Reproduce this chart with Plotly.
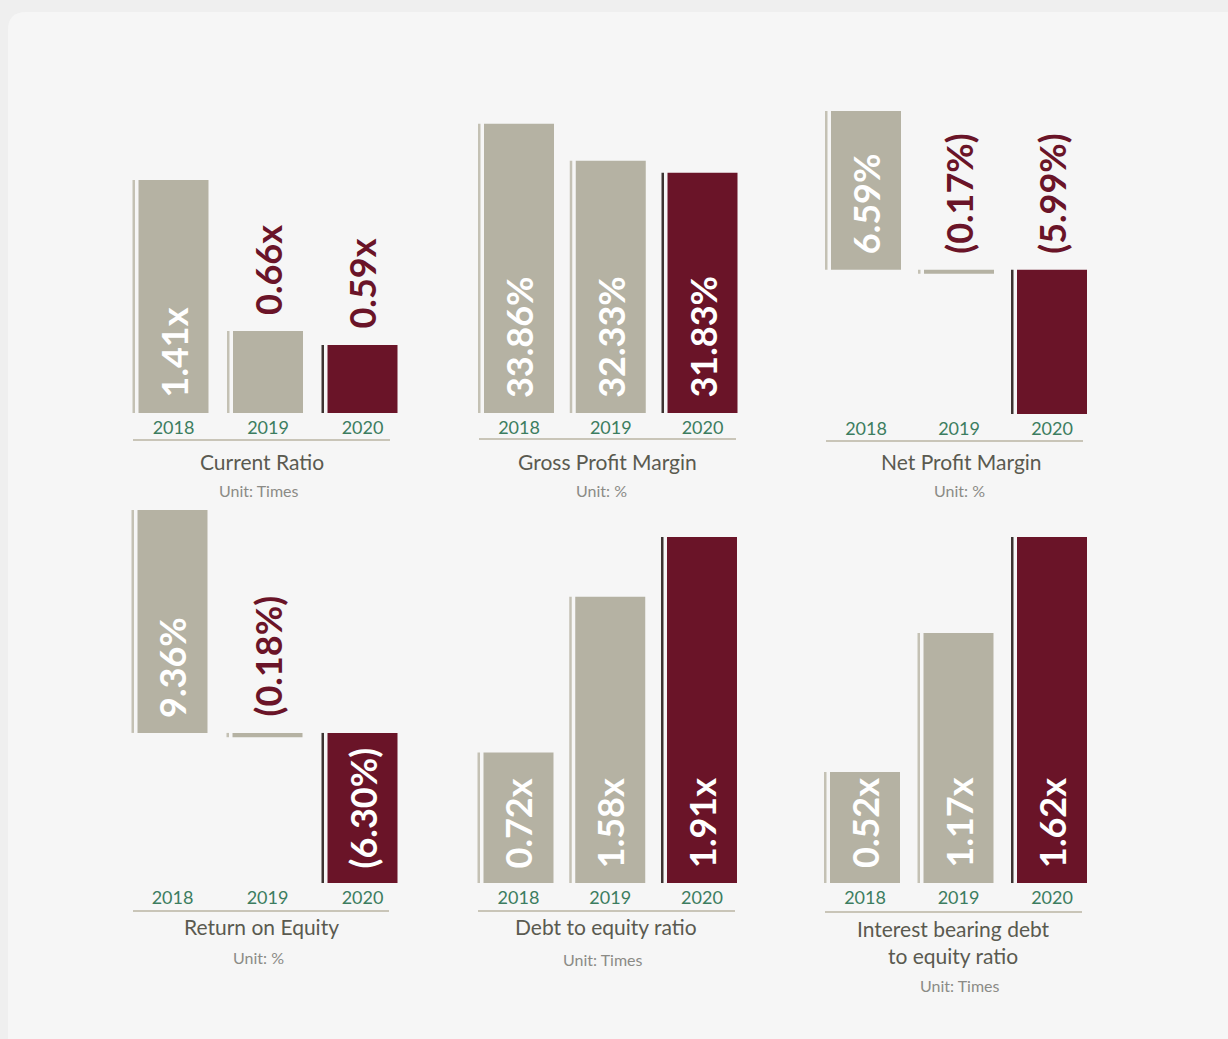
import plotly.graph_objects as go

# ---------------- data ----------------
years = ["2018", "2019", "2020"]

current_ratio = [1.41, 0.66, 0.59]
gross_profit_margin = [33.86, 32.33, 31.83]
net_profit_margin = [6.59, -0.17, -5.99]
return_on_equity = [9.36, -0.18, -6.30]
debt_to_equity = [0.72, 1.58, 1.91]
ibd_to_equity = [0.52, 1.17, 1.62]

titles = ["Current Ratio", "Gross Profit Margin", "Net Profit Margin",
          "Return on Equity", "Debt to equity ratio",
          "Interest bearing debt<br>to equity ratio"]
units = ["Unit: Times", "Unit: %", "Unit: %", "Unit: %", "Unit: Times", "Unit: Times"]
suffixes = ["x", "%", "%", "%", "x", "x"]
series = [current_ratio, gross_profit_margin, net_profit_margin,
          return_on_equity, debt_to_equity, ibd_to_equity]

# ---------------- style / layout ----------------
W, H = 1228, 1039
GRAY = "#b5b2a3"
MAROON = "#6a1428"
STRIPE_GRAY = "#c4c1b4"
STRIPE_DARK = "#3d3432"
YEAR_GREEN = "#3c7d60"
TITLE_COL = "#5a5a50"
UNIT_COL = "#8b8b86"
LINE_COL = "#c9c5b8"
FONT = "Lato"

bar_colors = [GRAY, GRAY, MAROON]
stripe_colors = [STRIPE_GRAY, STRIPE_GRAY, STRIPE_DARK]

# per panel: first category centre (px), category spacing (px), plot top/bottom (px),
# axis value at plot bottom, pixels per unit, which labels sit outside the bar,
# underline (x0, x1, y) px, title (x, y) px, unit (x, y) px
panels = [
    dict(c0=173.5, s=94.5, top=95, bottom=413, vbot=0.2522, ppu=201.2, outside=[1, 2],
         line=(133, 390, 440), title=(262, 461), unit=(258, 491)),
    dict(c0=519, s=91.75, top=95, bottom=413, vbot=21.9, ppu=24.19, outside=[],
         line=(479, 736, 439), title=(607, 461), unit=(601, 491)),
    dict(c0=866, s=93, top=95, bottom=414, vbot=-5.99, ppu=24.09, outside=[1, 2],
         line=(826, 1083, 441), title=(961, 462), unit=(959, 491)),
    dict(c0=172.5, s=95, top=495, bottom=883, vbot=-6.30, ppu=23.82, outside=[1],
         line=(133, 389, 911), title=(261, 926), unit=(258, 957)),
    dict(c0=518.5, s=91.75, top=495, bottom=883, vbot=0.0, ppu=181.2, outside=[],
         line=(478, 735, 911), title=(606, 926), unit=(602, 959)),
    dict(c0=865, s=93.5, top=495, bottom=883, vbot=0.0, ppu=213.6, outside=[],
         line=(825, 1082, 912), title=(953, 942), unit=(959, 985)),
]

MAIN_W = 70.0
STRIPE_W = 2.5
GAP = 3.5


def fmt(v, suf):
    return f"({abs(v):.2f}{suf})" if v < 0 else f"{v:.2f}{suf}"


fig = go.Figure()
annotations = []
shapes = []

# card background
rx, ry = 18 / W, 18 / H
cx0, cy0 = 8 / W, 1 - 12 / H
shapes.append(dict(
    type="path", xref="paper", yref="paper", layer="below",
    path=(f"M {cx0} -0.05 L {cx0} {cy0 - ry} Q {cx0} {cy0} {cx0 + rx} {cy0} "
          f"L 1.05 {cy0} L 1.05 -0.05 Z"),
    fillcolor="#f6f6f6", line=dict(width=0)))

layout_axes = {}
for i, (p, vals, suf) in enumerate(zip(panels, series, suffixes)):
    n = i + 1
    xa = "x" if n == 1 else f"x{n}"
    ya = "y" if n == 1 else f"y{n}"
    s = p["s"]

    # stripe (thin line at the left of each bar)
    fig.add_trace(go.Bar(
        x=years, y=vals, xaxis=xa, yaxis=ya,
        width=STRIPE_W / s, offset=-(MAIN_W / 2 + GAP + STRIPE_W) / s,
        marker=dict(color=stripe_colors, line=dict(width=0)),
        hoverinfo="skip", showlegend=False))
    # main bar
    fig.add_trace(go.Bar(
        x=years, y=vals, xaxis=xa, yaxis=ya,
        width=MAIN_W / s, offset=-(MAIN_W / 2) / s,
        marker=dict(color=bar_colors, line=dict(width=0)),
        hoverinfo="skip", showlegend=False))

    xdom = [(p["c0"] - 0.5 * s) / W, (p["c0"] + 2.5 * s) / W]
    ydom = [1 - p["bottom"] / H, 1 - p["top"] / H]
    yrng = [p["vbot"], p["vbot"] + (p["bottom"] - p["top"]) / p["ppu"]]
    layout_axes["xaxis" if n == 1 else f"xaxis{n}"] = dict(
        domain=xdom, range=[-0.5, 2.5], type="category", anchor=ya,
        showgrid=False, zeroline=False, showline=False, ticks="",
        tickfont=dict(family=FONT, size=18, color=YEAR_GREEN),
        ticklabelstandoff=2, fixedrange=True)
    layout_axes["yaxis" if n == 1 else f"yaxis{n}"] = dict(
        domain=ydom, range=yrng, anchor=xa, visible=False, fixedrange=True)

    # value labels (x given as category index)
    base_vis = max(0.0, p["vbot"])
    for j, v in enumerate(vals):
        txt = fmt(v, suf)
        if j in p["outside"]:
            y, yanchor, ysh, col = max(v, base_vis), "bottom", 14, MAROON
        elif v >= 0:
            y, yanchor, ysh, col = base_vis, "bottom", 13, "white"
        else:
            y, yanchor, ysh, col = 0, "top", -14, "white"
        annotations.append(dict(
            x=j, y=y, xref=xa, yref=ya, text=f"<b>{txt}</b>", textangle=-90,
            showarrow=False, xanchor="center", yanchor=yanchor, yshift=ysh,
            font=dict(family=FONT, size=36, color=col)))

    # underline
    lx0, lx1, ly = p["line"]
    shapes.append(dict(type="line", xref="paper", yref="paper",
                       x0=lx0 / W, x1=lx1 / W, y0=1 - ly / H, y1=1 - ly / H,
                       line=dict(color=LINE_COL, width=2)))
    # title & unit
    tx, ty = p["title"]
    annotations.append(dict(x=tx / W, y=1 - ty / H, xref="paper", yref="paper",
                            text=titles[i], showarrow=False, xanchor="center",
                            yanchor="middle",
                            font=dict(family=FONT, size=21, color=TITLE_COL)))
    ux, uy = p["unit"]
    annotations.append(dict(x=ux / W, y=1 - uy / H, xref="paper", yref="paper",
                            text=units[i], showarrow=False, xanchor="center",
                            yanchor="middle",
                            font=dict(family=FONT, size=16, color=UNIT_COL)))

fig.update_layout(
    width=W, height=H, margin=dict(l=0, r=0, t=0, b=0),
    paper_bgcolor="#efefef", plot_bgcolor="rgba(0,0,0,0)",
    barmode="overlay", showlegend=False,
    annotations=annotations, shapes=shapes,
    **layout_axes)

fig.write_html("out.html", config={"displayModeBar": False})
